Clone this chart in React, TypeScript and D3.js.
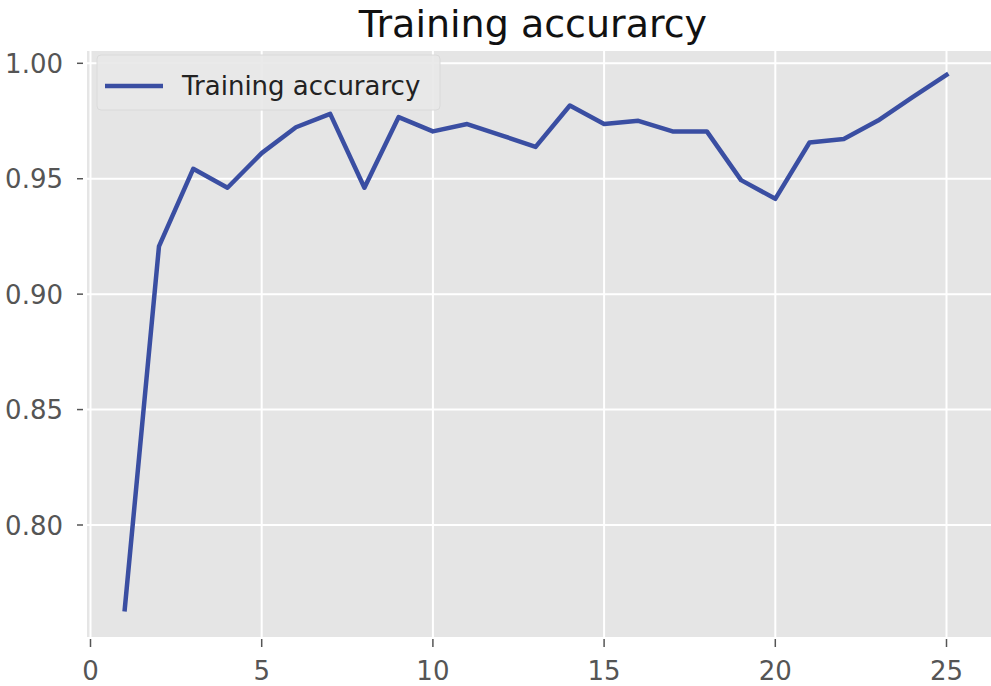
import { useEffect, useRef } from "react";
import * as d3 from "d3";

// Training accuracy per epoch
const epochs: number[] = [1, 2, 3, 4, 5, 6, 7, 8, 9, 10, 11, 12, 13, 14, 15, 16, 17, 18, 19, 20, 21, 22, 23, 24, 25];
const accuracy: number[] = [
  0.7635, 0.9207, 0.9543, 0.9461, 0.9611, 0.9723, 0.9781, 0.9461, 0.9767, 0.9705,
  0.9737, 0.9688, 0.9638, 0.9817, 0.9737, 0.9751, 0.9705, 0.9705, 0.9494, 0.9413,
  0.9657, 0.9672, 0.9752, 0.9852, 0.995,
];
const xTicks: number[] = [0, 5, 10, 15, 20, 25];
const yTicks: number[] = [0.8, 0.85, 0.9, 0.95, 1.0];
const title = "Training accurarcy";
const seriesName = "Training accurarcy";

const App = () => {
  const chartRef = useRef<SVGSVGElement | null>(null);

  useEffect(() => {
    const width = 991;
    const height = 686;
    const plot = { left: 87, top: 51, right: 991, bottom: 637 };
    const font = "DejaVu Sans, sans-serif";

    const svg = d3.select(chartRef.current);
    svg.selectAll("*").remove(); // Clear previous render
    svg.attr("width", width).attr("height", height);

    svg.append("rect").attr("width", width).attr("height", height).attr("fill", "#ffffff");

    const x = d3.scaleLinear().domain([0, 25]).range([90.5, 946.5]);
    const y = d3.scaleLinear().domain([0.8, 1.0]).range([525, 63.3]);

    // panel background
    svg
      .append("rect")
      .attr("x", plot.left)
      .attr("y", plot.top)
      .attr("width", plot.right - plot.left)
      .attr("height", plot.bottom - plot.top)
      .attr("fill", "#e5e5e5");

    // grid
    const grid = svg.append("g").attr("stroke", "#ffffff").attr("stroke-width", 2);
    grid
      .selectAll("line.gx")
      .data(xTicks)
      .join("line")
      .attr("x1", (d) => x(d))
      .attr("x2", (d) => x(d))
      .attr("y1", plot.top)
      .attr("y2", plot.bottom);
    grid
      .selectAll("line.gy")
      .data(yTicks)
      .join("line")
      .attr("x1", plot.left)
      .attr("x2", plot.right)
      .attr("y1", (d) => y(d))
      .attr("y2", (d) => y(d));

    // ticks and labels
    const axes = svg.append("g").attr("font-family", font).attr("font-size", 26).attr("fill", "#555555");
    axes
      .selectAll("line.tx")
      .data(xTicks)
      .join("line")
      .attr("x1", (d) => x(d))
      .attr("x2", (d) => x(d))
      .attr("y1", 639)
      .attr("y2", 647)
      .attr("stroke", "#555555")
      .attr("stroke-width", 1.5);
    axes
      .selectAll("text.lx")
      .data(xTicks)
      .join("text")
      .attr("x", (d) => x(d))
      .attr("y", 680)
      .attr("text-anchor", "middle")
      .text((d) => String(d));
    axes
      .selectAll("line.ty")
      .data(yTicks)
      .join("line")
      .attr("x1", 77)
      .attr("x2", 83)
      .attr("y1", (d) => y(d))
      .attr("y2", (d) => y(d))
      .attr("stroke", "#555555")
      .attr("stroke-width", 1.5);
    axes
      .selectAll("text.ly")
      .data(yTicks)
      .join("text")
      .attr("x", 63)
      .attr("y", (d) => y(d) + 9.5)
      .attr("text-anchor", "end")
      .text((d) => d3.format(".2f")(d));

    // data line
    const line = d3
      .line<number>()
      .x((_, i) => x(epochs[i]))
      .y((d) => y(d));
    svg
      .append("path")
      .datum(accuracy)
      .attr("d", line)
      .attr("fill", "none")
      .attr("stroke", "#3a4ea2")
      .attr("stroke-width", 4.5)
      .attr("stroke-linejoin", "round")
      .attr("stroke-linecap", "square");

    // legend
    const legend = svg.append("g");
    legend
      .append("rect")
      .attr("x", 97)
      .attr("y", 55)
      .attr("width", 343)
      .attr("height", 55)
      .attr("rx", 4)
      .attr("fill", "#e8e8e8")
      .attr("fill-opacity", 0.9)
      .attr("stroke", "#dadada");
    legend
      .append("line")
      .attr("x1", 105)
      .attr("x2", 163)
      .attr("y1", 86)
      .attr("y2", 86)
      .attr("stroke", "#3a4ea2")
      .attr("stroke-width", 4.5);
    legend
      .append("text")
      .attr("x", 182)
      .attr("y", 95)
      .attr("font-family", font)
      .attr("font-size", 26)
      .attr("fill", "#222222")
      .text(seriesName);

    // title
    svg
      .append("text")
      .attr("x", 533)
      .attr("y", 37)
      .attr("text-anchor", "middle")
      .attr("font-family", font)
      .attr("font-size", 38)
      .attr("fill", "#111111")
      .text(title);
  }, []);

  return (
    <div style={{ position: "absolute", left: 0, top: 0 }}>
      <svg ref={chartRef}></svg>
    </div>
  );
};

export default App;
